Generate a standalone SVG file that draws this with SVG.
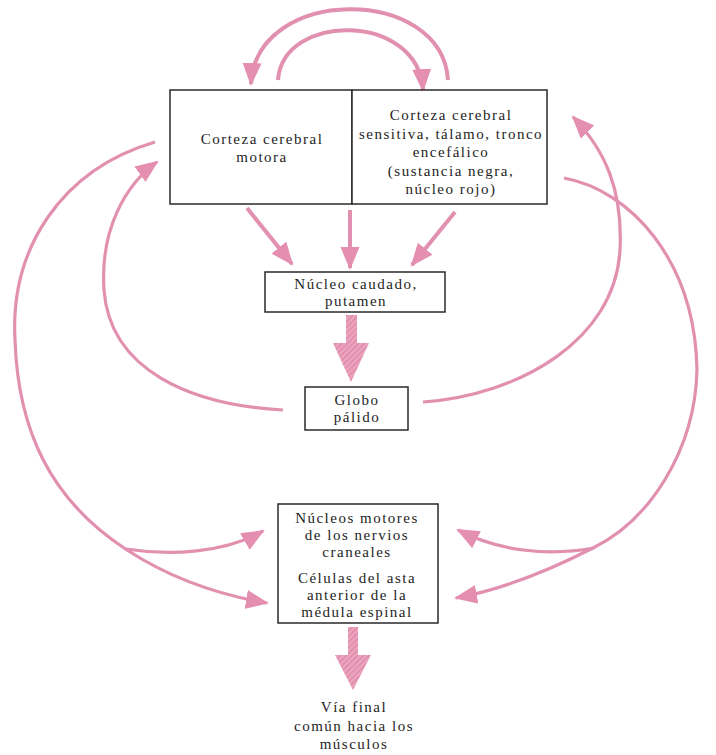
<svg xmlns="http://www.w3.org/2000/svg" width="716" height="755" viewBox="0 0 716 755">
<defs>
<style>
.box{fill:#fff;stroke:#2a2a2a;stroke-width:1.5}
.t{font-family:"Liberation Serif","Times New Roman",serif;font-size:15px;letter-spacing:1.5px;fill:#1e1e1e;text-anchor:middle}
.c{fill:none;stroke:#e290af;stroke-width:3.2;marker-end:url(#ah)}
.w{stroke-width:4}
.big{fill:url(#hatch)}
</style>
<marker id="ah" markerUnits="userSpaceOnUse" markerWidth="24" markerHeight="20" refX="21" refY="9.5" orient="auto">
<path d="M0,0 L23,9.5 L0,19 Z" fill="#e48fb0"/>
</marker>
<pattern id="hatch" width="4" height="4" patternUnits="userSpaceOnUse" patternTransform="rotate(45)">
<rect width="4" height="4" fill="#eba2bd"/>
<line x1="0" y1="0" x2="0" y2="4" stroke="#dc83a3" stroke-width="2"/>
</pattern>
</defs>
<rect width="716" height="755" fill="#fff"/>
<g id="connectors">
<path class="c w" d="M448,80 C442,-15 256,-15 251,84"/>
<path class="c w" d="M278,80 C283,12 418,12 423,90"/>
<path class="c w" d="M247,208 L292,264"/>
<path class="c w" d="M350,210 L350,268"/>
<path class="c w" d="M455,212 L412,265"/>
<path class="c" d="M283,410 C190,405 110,370 104,290 C100,230 125,185 157,162"/>
<path class="c" d="M423,402 C520,395 615,340 620,250 C623,190 605,150 573,117"/>
<path class="c" d="M155,142 C60,170 10,250 15,340 C18,430 50,500 127,550 C170,578 220,595 267,603"/>
<path class="c" d="M126,549 C170,556 225,553 263,531"/>
<path class="c" d="M564,178 C630,190 695,260 697,370 C695,450 650,520 593,548 C550,570 500,590 456,598"/>
<path class="c" d="M594,548 C550,556 500,552 458,530"/>
<path class="big" d="M346,315 L357,315 L357,343 L369,343 L351,382 L333,343 L346,343 Z"/>
<path class="big" d="M348,627 L358,627 L358,655 L371,655 L353,690 L335,655 L348,655 Z"/>
</g>
<g id="corteza-motora">
<rect class="box" x="170" y="90" width="182" height="114"/>
<text class="t" x="262" y="144">Corteza cerebral</text>
<text class="t" x="262" y="162">motora</text>
</g>
<g id="corteza-sensitiva">
<rect class="box" x="352" y="90" width="195" height="114"/>
<text class="t" x="451" y="120">Corteza cerebral</text>
<text class="t" x="451" y="138.5">sensitiva, tálamo, tronco</text>
<text class="t" x="451" y="157">encefálico</text>
<text class="t" x="451" y="175.5">(sustancia negra,</text>
<text class="t" x="451" y="194">núcleo rojo)</text>
</g>
<g id="caudado">
<rect class="box" x="265" y="272" width="180" height="40"/>
<text class="t" x="356" y="289">Núcleo caudado,</text>
<text class="t" x="356" y="306">putamen</text>
</g>
<g id="globo">
<rect class="box" x="305" y="387" width="103" height="43"/>
<text class="t" x="357" y="405">Globo</text>
<text class="t" x="357" y="422">pálido</text>
</g>
<g id="nucleos-motores">
<rect class="box" x="278" y="504" width="160" height="119"/>
<text class="t" x="357" y="523">Núcleos motores</text>
<text class="t" x="357" y="540">de los nervios</text>
<text class="t" x="357" y="557">craneales</text>
<text class="t" x="357" y="583">Células del asta</text>
<text class="t" x="357" y="600">anterior de la</text>
<text class="t" x="357" y="617">médula espinal</text>
</g>
<g id="via-final">
<text class="t" x="354" y="712">Vía final</text>
<text class="t" x="354" y="731">común hacia los</text>
<text class="t" x="354" y="749">músculos</text>
</g>
</svg>
